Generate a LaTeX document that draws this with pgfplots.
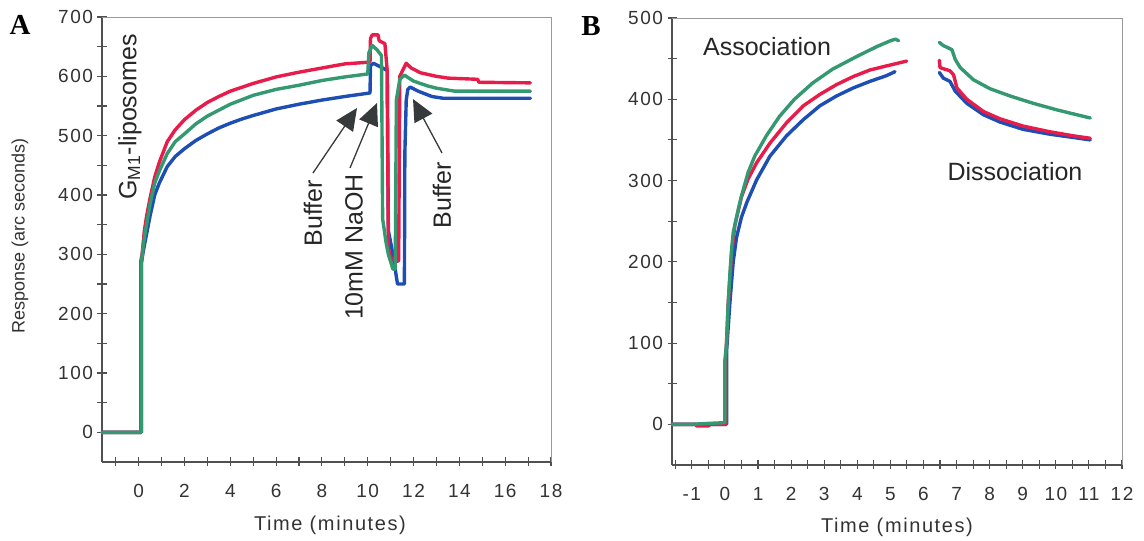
\documentclass[border=0pt]{standalone}
\usepackage{fontspec}
\setmainfont{Liberation Sans}
\newfontfamily\serifb{Liberation Serif}
\newfontfamily\widesans[LetterSpace=8]{Liberation Sans}
\usepackage{pgfplots}
\pgfplotsset{compat=1.18}
\usetikzlibrary{arrows.meta}
\definecolor{cred}{RGB}{232,28,74}
\definecolor{cgreen}{RGB}{52,152,112}
\definecolor{cblue}{RGB}{28,78,180}
\definecolor{axgray}{RGB}{80,80,80}
\definecolor{arrgray}{RGB}{55,58,58}
\newcommand\tickfont{\widesans\fontsize{19}{22}\selectfont}
\newcommand\annfont{\fontsize{25}{28}\selectfont}
\newcommand\labfont{\widesans\fontsize{20}{24}\selectfont}
\pgfplotsset{
 myaxis/.style={
  scale only axis,
  axis lines*=left,
  axis line style={axgray, line width=1.3pt},
  tick style={axgray, line width=1.1pt},
  tick align=center,
  major tick length=9pt, minor tick length=9pt,
  /pgf/number format/assume math mode=true,
  ticklabel style={font=\tickfont, text=black!80},
  xticklabel style={yshift=-14pt},
  yticklabel style={xshift=-1pt},
  every axis plot/.append style={line width=3.4pt, line join=round, line cap=round, mark=none},
  clip=false,
 }
}
\begin{document}
\begin{tikzpicture}
\path[use as bounding box] (0pt,0pt) rectangle (1144pt,541pt);
% ---------------- Panel A ----------------
\begin{axis}[myaxis,
  at={(102pt,79pt)}, anchor=south west,
  width=449pt, height=445pt,
  xmin=-1.6, xmax=18, ymin=-50, ymax=700,
  xtick={0,2,...,18}, minor xtick={-1,1,...,17},
  ytick={0,100,...,700}, minor ytick={50,150,...,650},
]
\addplot[cblue] coordinates {(-1.6,0) (0.12,0) (0.12,285) (0.2,305) (0.3,325) (0.5,365) (0.7,400) (0.9,420) (1.25,448) (1.6,465) (2,478) (2.5,492) (3,503) (3.5,513) (4,521) (4.5,528) (5,534) (6,545) (7,553) (8,560) (9,566) (10.1,572) (10.12,618) (10.25,622) (10.6,615) (10.85,610) (10.9,340) (11.1,300) (11.25,262) (11.3,250) (11.6,250) (11.62,470) (11.68,560) (11.75,578) (11.85,582) (12.2,575) (12.8,566) (13.3,563) (17.1,563)};
\addplot[cred] coordinates {(-1.6,0) (0.1,0) (0.1,290) (0.15,300) (0.2,320) (0.25,340) (0.35,365) (0.5,395) (0.7,430) (0.9,455) (1.25,490) (1.6,510) (2,527) (2.5,543) (3,556) (3.5,566) (4,575) (5,588) (6,599) (7,607) (8,614) (9,621) (10.1,624) (10.12,664) (10.2,670) (10.45,670) (10.5,660) (10.75,655) (10.85,610) (10.9,310) (11.0,295) (11.3,288) (11.35,290) (11.4,600) (11.55,612) (11.68,622) (11.9,614) (12.3,606) (13,600) (13.5,597) (14.8,595) (14.85,590) (17.1,589)};
\addplot[cgreen] coordinates {(-1.6,0) (0.12,0) (0.12,285) (0.2,315) (0.3,340) (0.5,385) (0.7,420) (0.9,440) (1.25,470) (1.6,490) (2,503) (2.5,520) (3,533) (4,553) (5,568) (6,578) (7,585) (8,593) (9,599) (10.0,604) (10.05,640) (10.2,652) (10.4,645) (10.6,635) (10.65,360) (10.8,320) (10.9,300) (11.1,275) (11.2,275) (11.25,560) (11.4,595) (11.6,602) (12.0,592) (12.6,584) (13.0,580) (13.8,575) (17.1,575)};
\draw[gray!80, line width=1pt] (rel axis cs:0,1) -- (rel axis cs:1,1) -- (rel axis cs:1,0);
\end{axis}
% ---------------- Panel B ----------------
\begin{axis}[myaxis,
  at={(672pt,76pt)}, anchor=south west,
  width=450pt, height=447pt,
  xmin=-1.6, xmax=12, ymin=-50, ymax=500,
  xtick={-1,0,...,12}, minor xtick={-1.5,-0.5,...,11.5},
  xticklabels={-1,0,1,2,3,4,5,6,7,8,9,10,11,12},
  ytick={0,100,...,500}, minor ytick={50,150,...,450},
]
\addplot[cblue] coordinates {(-1.6,0) (0.05,0) (0.05,90) (0.15,150) (0.25,200) (0.35,230) (0.5,255) (0.66,273) (0.96,301) (1.36,330) (1.86,355) (2.37,375) (2.87,392) (3.37,404) (3.88,414) (4.38,422) (4.88,429) (5.14,434)};
\addplot[cblue] coordinates {(6.48,433) (6.6,426) (6.8,422) (6.96,410) (7.31,395) (7.81,381) (8.31,372) (9.01,363) (9.82,357) (10.53,353) (11.04,350)};
\addplot[cred] coordinates {(-1.6,0) (-0.9,0) (-0.85,-2) (-0.5,-2) (-0.45,0) (0.03,0) (0.03,85) (0.1,150) (0.2,210) (0.3,245) (0.5,280) (0.7,302) (0.96,322) (1.36,346) (1.86,371) (2.37,392) (2.87,406) (3.37,418) (3.88,428) (4.38,436) (4.88,441) (5.49,447)};
\addplot[cred] coordinates {(6.48,448) (6.5,439) (6.8,435) (6.91,430) (7.01,414) (7.31,400) (7.81,385) (8.31,376) (9.01,367) (9.82,360) (10.53,355) (11.04,352)};
\addplot[cgreen] coordinates {(-1.6,0) (-1.0,0) (-0.6,1) (-0.05,2) (0,2) (0,80) (0.05,100) (0.1,150) (0.15,185) (0.2,215) (0.25,236) (0.4,264) (0.5,281) (0.7,310) (0.9,330) (1.25,355) (1.65,379) (2.1,400) (2.65,420) (3.25,437) (4,453) (4.6,465) (5,472) (5.15,474) (5.25,472)};
\addplot[cgreen] coordinates {(6.48,470) (6.6,466) (6.71,464) (6.86,461) (6.96,449) (7.11,439) (7.51,424) (8.01,413) (8.62,404) (9.32,395) (10.03,387) (10.63,381) (11.04,377)};
\draw[gray!80, line width=1pt] (rel axis cs:0,1) -- (rel axis cs:1,1) -- (rel axis cs:1,0);
\end{axis}
% ---------------- Text ----------------
\node[font=\serifb\bfseries\fontsize{29}{32}\selectfont] at (20pt,516pt) {A};
\node[font=\serifb\bfseries\fontsize{29}{32}\selectfont] at (591pt,515pt) {B};
\node[rotate=90, font=\fontsize{18}{21}\selectfont, text=black!80] at (20pt,305pt) {Response (arc seconds)};
\node[font=\labfont, text=black!80] at (330pt,16pt) {Time (minutes)};
\node[font=\labfont, text=black!80] at (897pt,14pt) {Time (minutes)};
\node[rotate=90, font=\annfont, text=black!85] at (130pt,424pt) {G\textsubscript{M1}-liposomes};
\node[rotate=90, font=\annfont, text=black!85] at (313pt,328pt) {Buffer};
\node[rotate=90, font=\annfont, text=black!85] at (354pt,294pt) {10mM NaOH};
\node[rotate=90, font=\annfont, text=black!85] at (442pt,346pt) {Buffer};
\draw[arrgray, line width=1.3pt, -{Triangle[length=22pt,width=20pt]}] (313pt,368pt) -- (357pt,433pt);
\draw[arrgray, line width=1.3pt, -{Triangle[length=22pt,width=20pt]}] (350pt,373pt) -- (377pt,438pt);
\draw[arrgray, line width=1.3pt, -{Triangle[length=22pt,width=20pt]}] (442pt,388pt) -- (413pt,442pt);
\node[font=\annfont, text=black!85] at (767pt,494pt) {Association};
\node[font=\annfont, text=black!85] at (1015pt,369pt) {Dissociation};
\end{tikzpicture}
\end{document}
